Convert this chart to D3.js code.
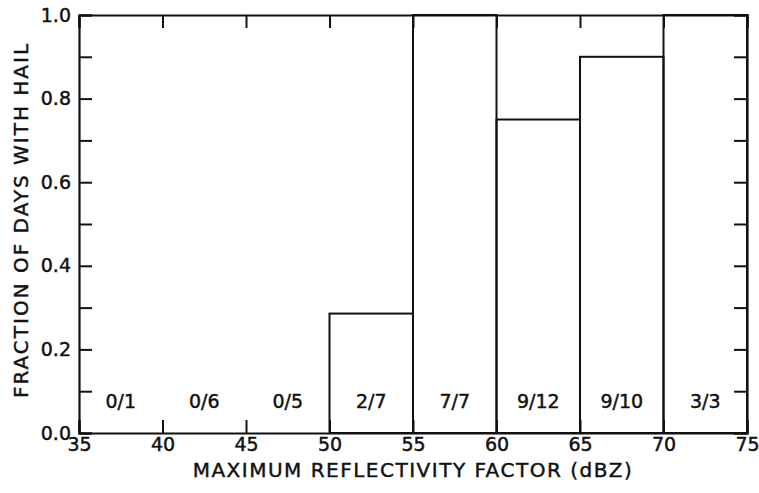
<!DOCTYPE html>
<html>
<head>
<meta charset="utf-8">
<script src="https://cdn.jsdelivr.net/npm/d3@7"></script>
<style>
  body { margin: 0; background: #fff; }
  svg text { font-family: "DejaVu Sans", sans-serif; fill: #111; stroke: #111; stroke-width: 0.45px; }
</style>
</head>
<body>
<div id="chart"></div>
<script>
// Data
var binStarts = [35, 40, 45, 50, 55, 60, 65, 70];
var binWidth = 5;
var fractions = [0, 0, 0, 2 / 7, 1.0, 0.75, 0.9, 1.0];
var countLabels = ["0/1", "0/6", "0/5", "2/7", "7/7", "9/12", "9/10", "3/3"];
var xTicks = [35, 40, 45, 50, 55, 60, 65, 70, 75];
var yTicks = [0, 0.2, 0.4, 0.6, 0.8, 1.0];
var yMinorTicks = [0, 0.1, 0.2, 0.3, 0.4, 0.5, 0.6, 0.7, 0.8, 0.9, 1.0];

var svgWidth = 759;
var svgHeight = 493;
var margin = { top: 15, right: 12, bottom: 60, left: 79 };
var width = svgWidth - margin.left - margin.right;
var height = svgHeight - margin.top - margin.bottom;

var svg = d3.select("#chart")
  .append("svg")
  .attr("width", svgWidth)
  .attr("height", svgHeight);

var g = svg.append("g")
  .attr("transform", `translate(${margin.left}, ${margin.top})`);

var x = d3.scaleLinear().domain([35, 75]).range([0, width]);
var y = d3.scaleLinear().domain([0, 1]).range([height, 0]);

var tickLen = 13;

// bars
g.selectAll("rect.bar")
  .data(binStarts.map((b, i) => ({ b: b, v: fractions[i] })))
  .enter()
  .append("rect")
  .attr("class", "bar")
  .attr("x", d => x(d.b))
  .attr("width", d => x(d.b + binWidth) - x(d.b))
  .attr("y", d => y(d.v))
  .attr("height", d => y(0) - y(d.v))
  .attr("fill", "none")
  .attr("stroke", "#111")
  .attr("stroke-width", 2);

// count labels
g.selectAll("text.count")
  .data(binStarts.map((b, i) => ({ b: b, t: countLabels[i] })))
  .enter()
  .append("text")
  .attr("class", "count")
  .attr("x", d => x(d.b + binWidth / 2))
  .attr("y", y(0.075))
  .attr("dy", "0.35em")
  .attr("text-anchor", "middle")
  .style("font-size", "19px")
  .text(d => d.t);

// axes (ticks pointing inward)
var bottomAxis = d3.axisBottom(x).tickValues(xTicks).tickSize(-tickLen).tickPadding(5).tickFormat(d3.format("d"));
var topAxis = d3.axisTop(x).tickValues(xTicks).tickSize(-tickLen).tickFormat("");
var leftAxis = d3.axisLeft(y).tickValues(yMinorTicks).tickSize(-tickLen).tickPadding(8)
  .tickFormat(d => yTicks.some(t => Math.abs(t - d) < 1e-9) ? d3.format(".1f")(d) : "");
var rightAxis = d3.axisRight(y).tickValues(yMinorTicks).tickSize(-tickLen).tickFormat("");

var axes = [
  g.append("g").attr("transform", `translate(0, ${height})`).call(bottomAxis),
  g.append("g").call(topAxis),
  g.append("g").call(leftAxis),
  g.append("g").attr("transform", `translate(${width}, 0)`).call(rightAxis)
];
axes.forEach(function(a) {
  a.selectAll("path.domain").attr("stroke", "#111").attr("stroke-width", 2.2);
  a.selectAll(".tick line").attr("stroke", "#111").attr("stroke-width", 2);
  a.selectAll(".tick text").style("font-size", "19px").attr("fill", "#111");
});

// axis titles
g.append("text")
  .attr("x", width / 2)
  .attr("y", height + 44)
  .attr("text-anchor", "middle")
  .style("font-size", "20px")
  .style("letter-spacing", "1.5px")
  .text("MAXIMUM REFLECTIVITY FACTOR (dBZ)");

g.append("text")
  .attr("transform", "rotate(-90)")
  .attr("x", -205)
  .attr("y", -51)
  .attr("text-anchor", "middle")
  .style("font-size", "20px")
  .style("letter-spacing", "2px")
  .text("FRACTION OF DAYS WITH HAIL");
</script>
</body>
</html>
